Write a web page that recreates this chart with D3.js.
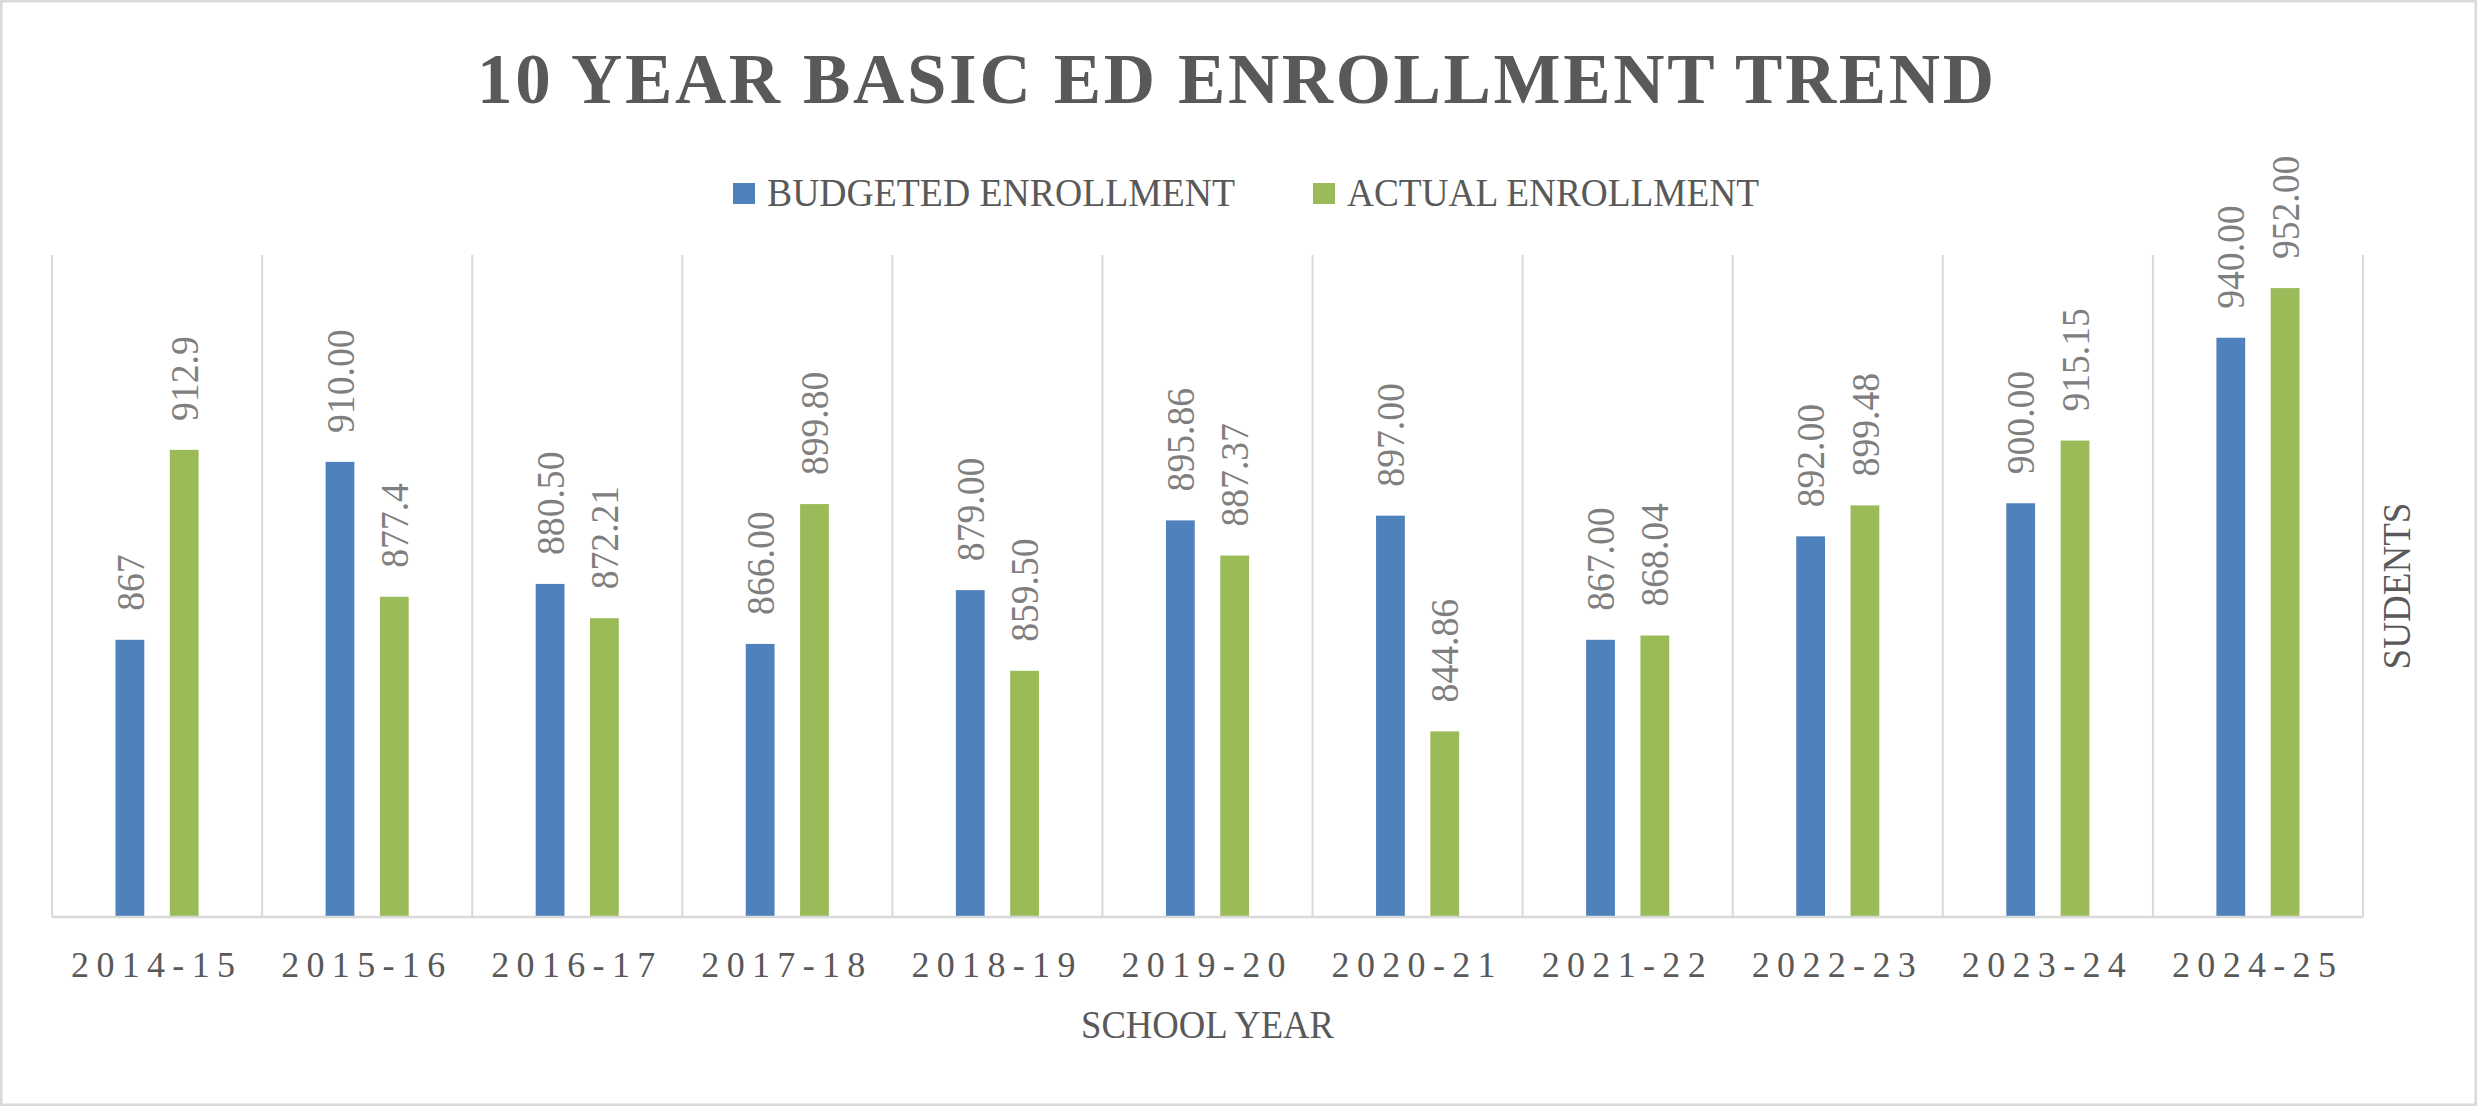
<!DOCTYPE html>
<html>
<head>
<meta charset="utf-8">
<script src="https://cdn.jsdelivr.net/npm/d3@7"></script>
<style>
  html, body { margin: 0; padding: 0; background: #ffffff; }
  svg { display: block; }
  text { font-family: "Liberation Serif", "DejaVu Serif", serif; }
</style>
</head>
<body>
<div id="chart"></div>
<script>
// ---- data ----
const categories = ["2014-15","2015-16","2016-17","2017-18","2018-19","2019-20","2020-21","2021-22","2022-23","2023-24","2024-25"];
const seriesNames = ["BUDGETED ENROLLMENT","ACTUAL ENROLLMENT"];
const budgeted = [867, 910, 880.5, 866, 879, 895.86, 897, 867, 892, 900, 940];
const actual = [912.9, 877.4, 872.21, 899.8, 859.5, 887.37, 844.86, 868.04, 899.48, 915.15, 952];
const budgetedLabels = ["867","910.00","880.50","866.00","879.00","895.86","897.00","867.00","892.00","900.00","940.00"];
const actualLabels = ["912.9","877.4","872.21","899.80","859.50","887.37","844.86","868.04","899.48","915.15","952.00"];
const yDomain = [800, 960];
const titleText = "10 YEAR BASIC ED ENROLLMENT TREND";
const xTitle = "SCHOOL YEAR";
const yTitle = "SUDENTS";

// ---- layout ----
const W = 2477, H = 1106;
const plot = { left: 52, right: 2363, top: 255, bottom: 917 };
const colors = ["#4f81bd", "#9bbb59"];
const gridColor = "#d9d9d9";
const textDark = "#595959";
const labelColor = "#7f7f7f";

const svg = d3.select("#chart").append("svg")
  .attr("width", W).attr("height", H);

svg.append("rect").attr("x", 0).attr("y", 0).attr("width", W).attr("height", H).attr("fill", "#fff");
svg.append("rect").attr("x", 1.25).attr("y", 1.25).attr("width", W - 2.5).attr("height", H - 2.5)
  .attr("fill", "none").attr("stroke", gridColor).attr("stroke-width", 2.5);

const x0 = d3.scaleBand().domain(categories).range([plot.left, plot.right]).padding(0);
const groupPad = 63.5;
const x1 = d3.scaleBand().domain(seriesNames)
  .range([groupPad, x0.bandwidth() - groupPad]).paddingInner(0.47).paddingOuter(0);
const y = d3.scaleLinear().domain(yDomain).range([plot.bottom, plot.top]);

// vertical category separators
const sepX = categories.map(c => x0(c)).concat([plot.right]);
svg.append("g").selectAll("line").data(sepX).join("line")
  .attr("x1", d => d).attr("x2", d => d)
  .attr("y1", y(yDomain[1])).attr("y2", y(yDomain[0]))
  .attr("stroke", gridColor).attr("stroke-width", 2);

// bars
const series = [
  { name: seriesNames[0], values: budgeted, labels: budgetedLabels, color: colors[0] },
  { name: seriesNames[1], values: actual, labels: actualLabels, color: colors[1] }
];
const rows = [];
series.forEach(s => categories.forEach((c, i) => rows.push({ cat: c, s: s.name, v: s.values[i], label: s.labels[i], color: s.color })));

svg.append("g").selectAll("rect").data(rows).join("rect")
  .attr("x", d => x0(d.cat) + x1(d.s))
  .attr("y", d => y(d.v))
  .attr("width", x1.bandwidth())
  .attr("height", d => y(yDomain[0]) - y(d.v))
  .attr("fill", d => d.color);

// data labels (rotated)
const lbls = svg.append("g").selectAll("text").data(rows).join("text")
  .attr("transform", d => {
    const cx = x0(d.cat) + x1(d.s) + x1.bandwidth() / 2;
    return `translate(${cx},${y(d.v) - 29}) rotate(-90)`;
  })
  .attr("dy", "0.34em")
  .attr("text-anchor", "start")
  .attr("font-size", 40)
  .attr("fill", labelColor)
  .text(d => d.label);
lbls.each(function () {
  const L = this.getComputedTextLength();
  d3.select(this).attr("textLength", L * 0.94).attr("lengthAdjust", "spacingAndGlyphs");
});

// baseline axis line
svg.append("line")
  .attr("x1", plot.left).attr("x2", plot.right)
  .attr("y1", y(yDomain[0])).attr("y2", y(yDomain[0]))
  .attr("stroke", gridColor).attr("stroke-width", 2.5);

// x axis labels
const xAxis = svg.append("g").attr("transform", `translate(0,${plot.bottom})`)
  .call(d3.axisBottom(x0).tickSize(0).tickPadding(0));
xAxis.select(".domain").remove();
xAxis.selectAll("text")
  .attr("y", 60).attr("dy", 0)
  .attr("x", -4)
  .attr("font-family", "Liberation Serif, serif")
  .attr("font-size", 36)
  .attr("fill", textDark)
  .attr("textLength", 164)
  .attr("lengthAdjust", "spacing");

// title
svg.append("text")
  .attr("x", 477).attr("y", 103)
  .attr("font-size", 71).attr("font-weight", "bold")
  .attr("fill", textDark)
  .attr("textLength", 1517).attr("lengthAdjust", "spacing")
  .text(titleText);

// legend
const legendItems = [
  { name: seriesNames[0], color: colors[0], sx: 733, tx: 767, tw: 468 },
  { name: seriesNames[1], color: colors[1], sx: 1313, tx: 1347, tw: 412 }
];
const lg = svg.append("g");
legendItems.forEach(it => {
  lg.append("rect").attr("x", it.sx).attr("y", 183).attr("width", 22).attr("height", 21).attr("fill", it.color);
  lg.append("text").attr("x", it.tx).attr("y", 206)
    .attr("font-size", 40).attr("fill", textDark)
    .attr("textLength", it.tw).attr("lengthAdjust", "spacingAndGlyphs")
    .text(it.name);
});

// axis titles
svg.append("text")
  .attr("x", (plot.left + plot.right) / 2).attr("y", 1038)
  .attr("text-anchor", "middle")
  .attr("font-size", 40).attr("fill", textDark)
  .attr("textLength", 253).attr("lengthAdjust", "spacingAndGlyphs")
  .text(xTitle);

svg.append("text")
  .attr("transform", `translate(2410,${(plot.top + plot.bottom) / 2}) rotate(-90)`)
  .attr("text-anchor", "middle")
  .attr("font-size", 41).attr("fill", textDark)
  .attr("textLength", 167).attr("lengthAdjust", "spacingAndGlyphs")
  .text(yTitle);
</script>
</body>
</html>
